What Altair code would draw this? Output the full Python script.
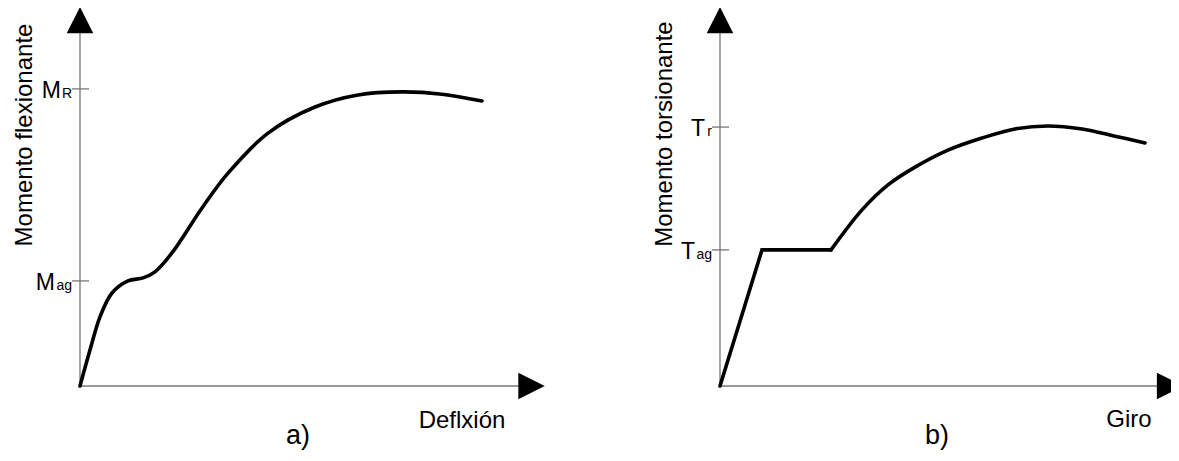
import altair as alt
import pandas as pd

# ---------------- data ----------------
# panel a) Momento flexionante vs Deflxión (axis units 0-100)
FLEX_X = [0, 2.15, 4.30, 6.88, 10.32, 13.55, 16.13, 19.78, 26.24, 31.83, 40.43, 50.54, 59.78, 69.25, 77.85, 86.45]
FLEX_Y = [0, 9.5, 18.3, 24.6, 27.8, 28.6, 30.2, 35.2, 47.1, 56.3, 66.9, 73.8, 77.0, 77.8, 77.2, 75.4]

# panel b) Momento torsionante vs Giro
TORS_LIN_X = [0, 9.31, 24.61]
TORS_LIN_Y = [0, 36.0, 36.0]
TORS_CURVE_X = [24.61, 31.49, 37.25, 43.24, 50.55, 58.09, 65.41, 72.73, 80.27, 87.58, 94.24]
TORS_CURVE_Y = [36.0, 46.6, 53.2, 57.9, 62.4, 65.6, 68.0, 68.8, 68.0, 66.1, 64.3]

LEFT_TICK_VALUES = [78.6, 27.8]
LEFT_TICK_MAIN = ["M", "M"]
LEFT_TICK_SUB = ["R", "ag"]
RIGHT_TICK_VALUES = [68.5, 36.0]
RIGHT_TICK_MAIN = ["T", "T"]
RIGHT_TICK_SUB = ["r", "ag"]

Y_TITLES = ["Momento flexionante", "Momento torsionante"]
X_TITLES = ["Deflxión", "Giro"]
PANEL_TAGS = ["a)", "b)"]

# ---------------- layout / style ----------------
FONT = "Liberation Sans"
AXIS_COLOR = "#777777"
H = 378
SUB_W = {"R": 10, "ag": 16, "r": 6}
ARROW_UP = "M-1,1L0,-1L1,1Z"
ARROW_RIGHT = "M-1,-1L1,0L-1,1Z"


def panel(curves, tick_vals, tick_main, tick_sub, ytitle, xtitle, tag,
          x_range, x_axis_end, x_arrow, ytitle_pos, xtitle_pos, tag_pos):
    xs = alt.Scale(domain=[0, 100], range=x_range)
    ys = alt.Scale(domain=[0, 100], range=[H, 0])

    def X(f):
        return alt.X(f, type="quantitative", scale=xs, axis=None)

    def Y(f):
        return alt.Y(f, type="quantitative", scale=ys, axis=None)

    layers = []
    # axis lines
    axes_df = pd.DataFrame({"x": [0, 0], "y": [0, 0], "x2": [0, x_axis_end], "y2": [95, 0]})
    layers.append(
        alt.Chart(axes_df).mark_rule(color=AXIS_COLOR, strokeWidth=1.3).encode(
            x=X("x"), y=Y("y"), x2="x2", y2="y2"
        )
    )
    # tick marks
    ticks_df = pd.DataFrame({"zero": [0] * len(tick_vals), "v": tick_vals})
    layers.append(
        alt.Chart(ticks_df).mark_rule(color=AXIS_COLOR, strokeWidth=1.3, xOffset=-8, x2Offset=9).encode(
            x=X("zero"), x2="zero", y=Y("v")
        )
    )
    # tick labels (letter + subscript)
    for v, m, s in zip(tick_vals, tick_main, tick_sub):
        d = pd.DataFrame({"zero": [0], "v": [v], "m": [m], "s": [s]})
        layers.append(
            alt.Chart(d).mark_text(font=FONT, fontSize=23, align="right", baseline="alphabetic",
                                   dx=-9 - SUB_W.get(s, 10), dy=9, color="black").encode(
                x=X("zero"), y=Y("v"), text="m:N"
            )
        )
        layers.append(
            alt.Chart(d).mark_text(font=FONT, fontSize=14, align="right", baseline="alphabetic",
                                   dx=-8, dy=9, color="black").encode(
                x=X("zero"), y=Y("v"), text="s:N"
            )
        )
    # curves
    for cx, cy, interp in curves:
        cdf = pd.DataFrame({"x": cx, "y": cy})
        layers.append(
            alt.Chart(cdf).mark_line(color="black", strokeWidth=3.6, interpolate=interp,
                                     strokeCap="round").encode(x=X("x"), y=Y("y"))
        )
    # arrows
    up_df = pd.DataFrame({"x": [0], "y": [96.8]})
    layers.append(
        alt.Chart(up_df).mark_point(shape=ARROW_UP, size=700, filled=True, color="black",
                                    opacity=1, strokeWidth=0).encode(x=X("x"), y=Y("y"))
    )
    rt_df = pd.DataFrame({"x": [x_arrow], "y": [0]})
    layers.append(
        alt.Chart(rt_df).mark_point(shape=ARROW_RIGHT, size=700, filled=True, color="black",
                                    opacity=1, strokeWidth=0).encode(x=X("x"), y=Y("y"))
    )
    # titles
    layers.append(
        alt.Chart(pd.DataFrame({"t": [ytitle]})).mark_text(
            font=FONT, fontSize=24, angle=270, align="center", baseline="alphabetic", color="black"
        ).encode(text="t:N", x=alt.value(ytitle_pos[0]), y=alt.value(ytitle_pos[1]))
    )
    layers.append(
        alt.Chart(pd.DataFrame({"t": [xtitle]})).mark_text(
            font=FONT, fontSize=24, align="center", baseline="alphabetic", color="black"
        ).encode(text="t:N", x=alt.value(xtitle_pos[0]), y=alt.value(xtitle_pos[1]))
    )
    layers.append(
        alt.Chart(pd.DataFrame({"t": [tag]})).mark_text(
            font=FONT, fontSize=27, align="center", baseline="alphabetic", color="black"
        ).encode(text="t:N", x=alt.value(tag_pos[0]), y=alt.value(tag_pos[1]))
    )
    return alt.layer(*layers)


left = panel(
    [(FLEX_X, FLEX_Y, "catmull-rom")],
    LEFT_TICK_VALUES, LEFT_TICK_MAIN, LEFT_TICK_SUB,
    Y_TITLES[0], X_TITLES[0], PANEL_TAGS[0],
    x_range=[72, 537], x_axis_end=95, x_arrow=97.1,
    ytitle_pos=(24, 127), xtitle_pos=(454, 420), tag_pos=(290, 436),
)
right = panel(
    [(TORS_LIN_X, TORS_LIN_Y, "linear"), (TORS_CURVE_X, TORS_CURVE_Y, "catmull-rom")],
    RIGHT_TICK_VALUES, RIGHT_TICK_MAIN, RIGHT_TICK_SUB,
    Y_TITLES[1], X_TITLES[1], PANEL_TAGS[1],
    x_range=[712, 1163], x_axis_end=98, x_arrow=99.8,
    ytitle_pos=(664, 126), xtitle_pos=(1121, 419), tag_pos=(929, 436),
)

chart = (
    alt.layer(left, right)
    .resolve_scale(x="independent", y="independent")
    .properties(width=1163, height=445, autosize=alt.AutoSizeParams(type="none"), padding=0,
                background="white")
    .configure_view(stroke=None)
)

chart.save("out.html", embed_options={"renderer": "svg", "actions": False})
